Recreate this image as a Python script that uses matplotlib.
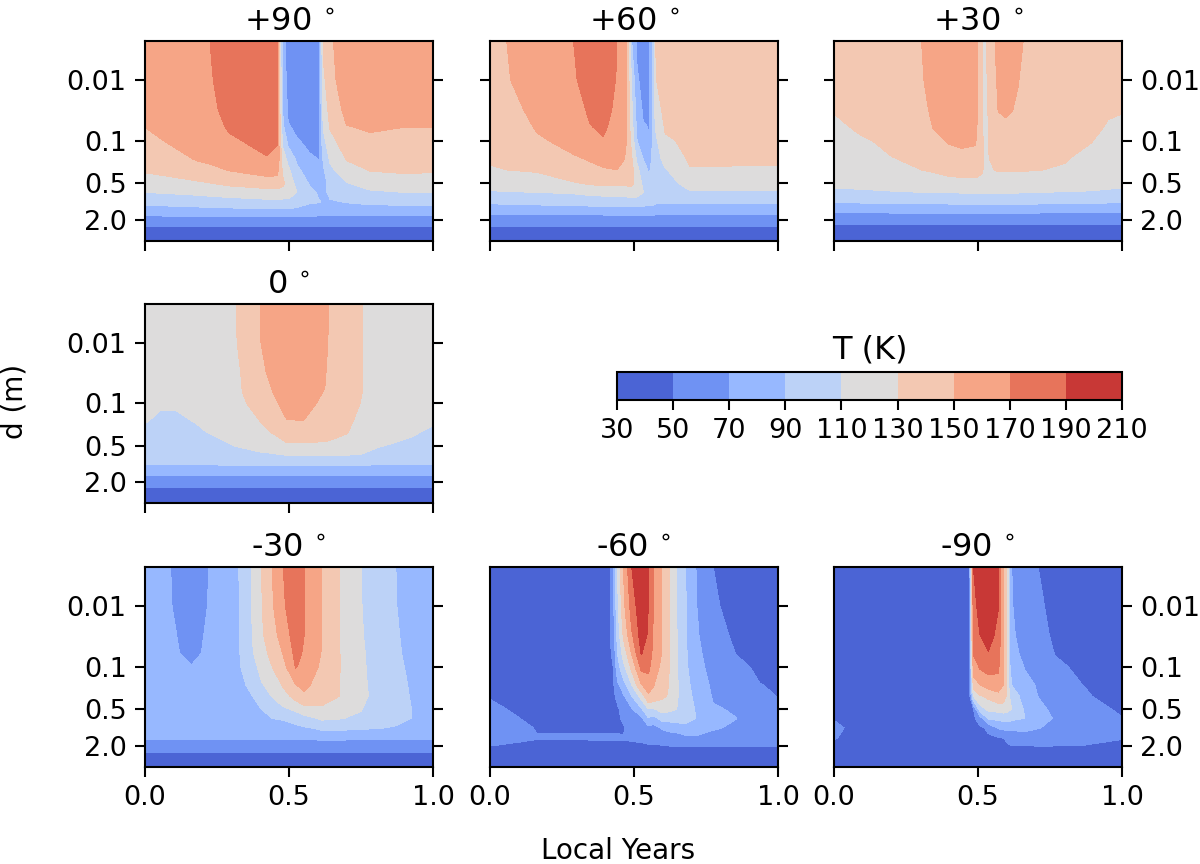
import numpy as np
import matplotlib
matplotlib.use('Agg')
import matplotlib.pyplot as plt
from matplotlib.ticker import NullLocator

# T(K), one list per time column, top to bottom along depth
depth = [0.0023, 0.01, 0.03, 0.06, 0.1, 0.2, 0.3, 0.5, 0.7, 1.0, 1.5, 2.0, 3.0, 4.4]
levels = [30, 50, 70, 90, 110, 130, 150, 170, 190, 210]
ytick_vals = [0.01, 0.1, 0.5, 2.0]
ytick_labels = ['0.01', '0.1', '0.5', '2.0']
xtick_vals = [0.0, 0.5, 1.0]

t_p90 = [0, .18, .237, .295, .422, .459, .478, .497, .527, .573, .605, .619, .642, .70, .781, .897, 1]
T_p90 = [
    [166, 162, 156, 150, 146, 137, 132, 120, 110, 95, 77, 60, 43, 36],
    [168, 167, 165, 161, 157, 151, 143, 126, 114, 99, 78, 60, 43, 36],
    [170.5, 170, 168, 165, 161, 153, 147, 130, 116, 100.5, 78, 60, 43, 36],
    [180, 178, 175, 172, 167, 156, 151, 134, 118, 102, 79, 60, 43, 36],
    [186, 185, 182, 178, 176, 168, 157, 140, 121, 105, 80, 60, 43, 36],
    [171, 171, 171, 171, 171, 166, 156, 140, 122, 105, 80, 60, 43, 36],
    [80, 85, 89, 96, 106, 120, 127, 134, 122, 104, 80, 60, 43, 36],
    [58, 62, 67, 72, 85, 105, 114, 122, 118, 106, 80, 60, 43, 36],
    [55, 57, 61, 66, 72, 87, 94, 104, 110, 99, 80, 60, 43, 36],
    [54, 55, 57, 60, 64, 74, 80, 88, 95, 92, 78, 60, 43, 36],
    [68, 68, 68, 68, 69, 69.5, 73, 82, 87, 91, 77, 60, 43, 36],
    [132, 125, 117, 111, 104, 92, 87, 83, 85, 88, 77, 60, 43, 36],
    [146, 143, 136, 131, 122, 112, 106, 96, 94, 88, 76, 60, 43, 36],
    [165, 162, 156, 149, 143, 131, 121, 109, 98, 91, 77, 60, 43, 36],
    [168, 165, 158, 152, 146, 137, 131, 117, 107, 94, 77, 60, 43, 36],
    [167, 163, 156, 150, 147, 138, 133, 119, 110, 95, 77, 60, 43, 36],
    [166, 162, 156, 150, 146, 137, 132, 120, 110, 95, 77, 60, 43, 36],
]

t_p60 = [0, .058, .162, .29, .347, .393, .44, .474, .492, .509, .532, .552, .565, .575, .608, .694, 1]
T_p60 = [
    [145, 142, 138, 136, 134, 131, 129, 117, 108, 93, 73, 58, 42, 35],
    [150, 148.5, 145, 142, 139, 133, 130, 118, 109, 94, 74, 58, 42, 35],
    [164, 160, 154, 151, 148, 139, 132, 118, 110, 95, 75, 58, 42, 35],
    [170, 168, 162, 157, 154, 148, 141, 128, 112, 97, 75, 58, 42, 35],
    [178, 177, 173, 169, 162, 151, 146, 132, 115, 98, 75, 58, 42, 35],
    [181, 180, 177, 173, 168, 155, 148, 134, 116, 99, 75, 58, 42, 35],
    [170.5, 169, 166, 163, 160, 154, 150, 134, 117, 100, 76, 58, 42, 35],
    [150, 150, 150, 150, 150, 149, 146, 134, 118, 100, 76, 58, 42, 35],
    [90, 108, 114, 118, 124, 132, 136, 134, 119, 100, 76, 58, 42, 35],
    [68, 74, 83, 88, 91, 108, 117, 124, 119, 100, 76, 58, 42, 35],
    [58, 62, 67, 72, 80, 90, 97, 105, 110.5, 98, 76, 58, 42, 35],
    [69, 69, 69, 69.5, 70, 80, 88, 95, 98, 95, 76, 58, 42, 35],
    [90, 90.5, 91, 92, 93, 94, 95, 99, 101, 97, 76, 58, 42, 35],
    [130, 129, 122, 111, 106, 100, 99, 99, 99, 93, 74, 58, 42, 35],
    [141, 139, 135, 132, 127, 117, 108, 103, 101, 93, 74, 58, 42, 35],
    [143, 142, 139, 136, 134, 132, 129, 116, 108, 93, 73, 58, 42, 35],
    [145, 142, 138, 136, 134, 131, 129, 117, 108, 93, 73, 58, 42, 35],
]

t_p30 = [0, .084, .2, .304, .345, .397, .443, .49, .499, .515, .522, .529, .537, .559, .57, .594, .617, .64, .657, .709, .802, .894, .952, 1]
T_p30 = [
    [144, 138, 131, 126, 123, 119, 116, 112, 108, 92, 70, 54, 42, 35],
    [147, 143, 136, 132, 127, 121, 118, 113, 108, 92, 70, 54, 42, 35],
    [148, 146, 141, 137, 134, 129, 124, 115, 109, 93, 71, 54, 42, 35],
    [150, 148.5, 146, 142, 139, 134, 130, 117, 110, 94, 71, 54, 42, 35],
    [158, 156, 153, 150.5, 146, 138, 132, 118, 110, 94, 71, 54, 42, 35],
    [160, 159, 157, 153, 151, 143, 136, 121, 110.5, 94, 71, 54, 42, 35],
    [160, 159, 157, 154, 152, 146, 138, 122, 111, 95, 71, 54, 42, 35],
    [152, 152, 152, 152, 151, 146, 138, 122, 111, 95, 71, 54, 42, 35],
    [150, 150, 150, 149, 148, 143, 137, 122, 111, 95, 71, 54, 42, 35],
    [130, 131, 133, 134, 135, 135, 132, 121, 111, 95, 71, 54, 42, 35],
    [109, 112, 115, 118, 122, 127, 126, 120, 111, 95, 71, 54, 42, 35],
    [130, 128, 125, 122, 122, 125, 125, 119, 111, 95, 71, 54, 42, 35],
    [135, 134, 133, 131, 130.5, 129.5, 127, 120, 111, 95, 71, 54, 42, 35],
    [150, 147, 142, 138, 135, 133, 130.5, 119, 111, 95, 71, 54, 42, 35],
    [155, 153, 150.5, 145, 140, 135, 131, 119, 111, 95, 71, 54, 42, 35],
    [158, 156, 152, 147, 142, 136, 131, 119, 111, 95, 71, 54, 42, 35],
    [155, 153, 150.5, 146, 141, 135, 131, 119, 111, 95, 71, 54, 42, 35],
    [153, 150.3, 148, 144, 140, 135, 131, 119, 111, 95, 71, 54, 42, 35],
    [150, 148, 145, 142, 139, 134, 131, 118, 110.5, 95, 71, 54, 42, 35],
    [148, 146, 143, 140, 137, 133, 130.5, 118, 110, 94, 71, 54, 42, 35],
    [147, 145, 142, 139, 136, 131, 128, 116, 109.5, 93, 70, 54, 42, 35],
    [146, 143, 139, 135, 130.5, 124, 121, 114, 109, 93, 70, 54, 42, 35],
    [145, 140, 132, 128, 125, 120, 118, 113, 108, 92, 70, 54, 42, 35],
    [144, 138, 131, 126, 123, 119, 116, 112, 108, 92, 70, 54, 42, 35],
]

t_0 = [0, .052, .11, .18, .316, .34, .40, .446, .492, .55, .625, .64, .70, .756, .816, .932, 1]
T_0 = [
    [121, 118, 115, 113, 112, 110.5, 107, 100, 96, 91, 72, 57, 43, 35],
    [121, 118, 114, 112.5, 111, 108, 104, 99, 95, 91, 72, 57, 43, 35],
    [122, 119, 115, 113, 111, 108, 105, 100, 96, 91, 72, 57, 43, 35],
    [124, 121, 117, 114, 112, 110.5, 108, 102, 97, 91, 72, 57, 43, 35],
    [130, 129.5, 128, 126, 124, 120, 116, 110.5, 103, 92, 72, 57, 43, 35],
    [133, 132.5, 131, 130.5, 128, 122, 118, 111.5, 105, 92, 72, 57, 43, 35],
    [150, 149.5, 146, 142, 137, 130, 124, 114, 108, 92, 72, 57, 43, 35],
    [160, 158, 155, 151, 147, 139, 131.5, 116, 109, 92, 72, 57, 43, 35],
    [165, 163, 160, 157, 155, 149, 138, 127, 111, 93, 72, 57, 43, 35],
    [166, 165, 163, 159, 156, 149.5, 139, 127, 111, 93, 72, 57, 43, 35],
    [152, 152, 151, 149.5, 146, 141, 136, 126.5, 111, 93, 72, 57, 43, 35],
    [149.5, 149, 147, 145, 143, 139, 135, 126, 111, 93, 72, 57, 43, 35],
    [138, 138, 137, 136, 135, 134, 131, 121, 111, 92, 72, 57, 43, 35],
    [130, 130, 130, 130, 129, 124, 120, 114, 109.5, 92, 72, 57, 43, 35],
    [122, 122, 120, 118, 116, 113, 112, 110.5, 105, 91, 72, 57, 43, 35],
    [120, 119, 117, 115, 114, 112, 111, 107, 100, 91, 72, 57, 43, 35],
    [121, 118, 115, 113, 112, 111, 108, 101, 96, 91, 72, 57, 43, 35],
]

t_m30 = [0, .089, .162, .221, .326, .37, .405, .442, .48, .523, .553, .614, .677, .75, .772, .871, .924, 1]
T_m30 = [
    [80, 79, 78, 77, 76, 75, 75, 74, 74, 73, 71, 58, 43, 35],
    [70, 70.5, 72, 73, 75, 75, 75, 74, 74, 73, 71, 58, 43, 35],
    [62, 63, 65, 66, 71, 75, 75, 74, 74, 73, 71, 58, 43, 35],
    [70, 70.5, 72, 73, 76, 76, 76, 75, 74, 73, 71, 58, 43, 35],
    [90, 89.5, 89, 88.5, 88, 85, 83, 80, 78, 75, 71, 57, 43, 35],
    [110, 109.5, 109, 107, 102, 94, 89, 83, 80, 76, 71, 57, 43, 35],
    [130, 129, 127, 122, 116, 108, 101, 90, 84, 77, 71, 57, 43, 35],
    [150, 148, 143, 136, 130, 118, 111, 98, 90, 79, 71, 57, 43, 35],
    [170, 167, 158, 151, 143, 132, 122, 106, 92, 81, 71, 57, 43, 35],
    [185, 184, 180, 175, 171, 149, 137, 113, 98, 85, 72, 57, 43, 35],
    [170, 170, 170, 168, 165, 155, 146, 121, 103, 88, 72, 57, 43, 35],
    [150, 150, 150, 149, 146, 140, 136, 127, 113, 94, 73, 57, 43, 35],
    [130, 130, 130, 130, 130.2, 129.5, 130, 120, 111, 94, 73, 57, 43, 35],
    [110, 111, 112, 113, 114, 115, 115, 111, 106, 93, 72, 57, 43, 35],
    [103, 105, 107, 108.5, 109, 110, 110.5, 106, 101, 92, 72, 57, 43, 35],
    [90, 90.5, 92, 93, 95, 97, 97, 95, 93, 89, 71, 57, 43, 35],
    [82, 83, 84, 85, 86, 88, 89, 90.2, 90, 82, 71, 57, 43, 35],
    [80, 79, 78, 77, 76, 75, 75, 74, 74, 73, 71, 58, 43, 35],
]

t_m60 = [0, .104, .162, .417, .428, .443, .463, .492, .525, .55, .567, .596, .623, .648, .68, .715, .775, .856, .937, 1]
T_m60 = [
    [38, 40, 42, 44, 46, 48, 49.5, 52, 54, 55, 54, 50, 42, 36],
    [37, 38, 40, 41, 42, 44, 46, 48.5, 50, 52, 51.5, 48, 42, 36],
    [37, 38, 39, 40, 41, 43, 45, 47, 48, 49.5, 50.5, 46, 41, 36],
    [50, 49.5, 48, 47.5, 47, 46, 46, 46.5, 47.5, 49, 51, 46, 41, 36],
    [70, 65, 60, 55, 50, 47, 46, 46, 47.5, 49, 51, 46, 41, 36],
    [110, 106, 98, 90.5, 82, 66, 55, 47, 48, 49, 51, 46, 41, 36],
    [150, 144, 132, 117, 104, 80, 67, 56, 52, 48.5, 51, 46, 41, 36],
    [190, 178, 167, 151, 135, 109, 90, 67, 60, 55, 52, 46, 41, 36],
    [205, 204, 198, 191, 175, 148, 117, 86, 66, 59, 53, 47, 41, 36],
    [190, 190, 188, 182, 175, 158, 147, 108, 88, 65, 55, 48, 41, 36],
    [170.5, 170, 168, 165, 160, 151, 143, 107, 82, 62, 55, 48, 41, 36],
    [150, 150, 150, 150, 146, 139, 134, 116, 96, 72, 56, 49, 42, 36],
    [130, 130, 130, 130, 129.5, 129, 128, 114, 97, 76, 58, 49.8, 42, 36],
    [110, 110, 111, 112, 112, 113, 113, 110, 99, 78, 58, 50.5, 42, 36],
    [90, 90.5, 91, 92, 93, 95, 96, 96, 95, 85, 62, 50.5, 42, 36],
    [70, 71, 73, 76, 78, 83, 86, 89, 90, 84, 64, 50.3, 42, 36],
    [50, 52, 56, 59, 62, 66, 68, 72, 74, 72, 62, 50.2, 42, 36],
    [44, 45, 47, 49.5, 54, 60, 63, 68, 70.2, 67, 58, 50.1, 42, 36],
    [40, 41, 43, 45, 47, 50.5, 53, 58, 60, 60, 55, 50.1, 42, 36],
    [38, 39, 41, 43, 45, 48, 49.6, 53, 55, 56, 54, 50, 42, 36],
]

t_m90 = [0, .035, .455, .47, .484, .507, .536, .57, .588, .60, .609, .617, .663, .709, .767, .86, 1]
T_m90 = [
    [36, 37, 38, 39, 40, 42, 44, 47, 49.5, 52, 50.5, 46, 40, 35],
    [36, 37, 38, 39, 40, 41, 43, 45, 47, 50, 49, 45, 40, 35],
    [36, 37, 38, 39, 39, 40, 40, 40, 41, 42, 43, 43, 39, 35],
    [48, 47, 46, 45, 44, 42, 41, 41, 42, 43, 44, 44, 40, 35],
    [190, 183, 176, 171, 160, 137, 110, 48, 46, 44, 45, 45, 40, 35],
    [200, 197, 190, 180, 172, 149, 128, 98, 60, 47, 46, 45, 40, 35],
    [205, 204, 197, 189, 177, 157, 134, 114, 92, 53, 47, 46, 40, 35],
    [190, 190.5, 185, 179, 174, 160, 143, 116, 94, 72, 47, 46, 40, 35],
    [150, 150, 150, 150, 150, 150, 140, 118, 96, 74, 49, 47, 40, 35],
    [130, 130, 130, 130, 130, 130, 128, 116, 96, 75, 52, 48, 41, 35],
    [90, 90.5, 91, 92, 94, 104, 110, 112, 96, 74, 54, 49, 41, 35],
    [70, 71, 73, 76, 80, 90, 100, 110, 94, 74, 55, 49.5, 41, 35],
    [58, 60, 62, 65, 69, 76, 82, 87, 90, 76, 57, 49.8, 41, 35],
    [50, 53, 56, 60, 63, 68, 69.5, 76, 81, 71, 56, 49.9, 41, 35],
    [44, 45, 47, 49.5, 53, 58, 61, 65, 68, 65, 55, 49.9, 41, 35],
    [40, 41, 43, 45, 47, 50.3, 52, 56, 58, 58, 53, 49.7, 41, 35],
    [36, 37, 38, 39, 40, 42, 44, 48, 50.5, 53, 50.5, 46, 40, 35],
]

W, H = 1200.0, 864.0
col_x = [(145, 433), (490, 778), (834, 1122)]
row_y = [(41, 241), (304, 503), (567, 767)]
tick_fs = 19.5
title_fs = 23

# name, time, table, col, row, left tick, right tick
panels = [
    ('+90 $^{\\circ}$', t_p90, T_p90, 0, 0, 'label', True),
    ('+60 $^{\\circ}$', t_p60, T_p60, 1, 0, True, True),
    ('+30 $^{\\circ}$', t_p30, T_p30, 2, 0, True, 'label'),
    ('0 $^{\\circ}$', t_0, T_0, 0, 1, 'label', True),
    ('-30 $^{\\circ}$', t_m30, T_m30, 0, 2, 'label', True),
    ('-60 $^{\\circ}$', t_m60, T_m60, 1, 2, False, True),
    ('-90 $^{\\circ}$', t_m90, T_m90, 2, 2, False, 'label'),
]

fig = plt.figure(figsize=(12, 8.64), dpi=100)
cf = None
for name, t, table, c, r, left, right in panels:
    x0, x1 = col_x[c]
    y0, y1 = row_y[r]
    ax = fig.add_axes([x0 / W, 1 - y1 / H, (x1 - x0) / W, (y1 - y0) / H])
    Z = np.array(table, dtype=float).T
    cf = ax.contourf(t, depth, Z, levels=levels, cmap='coolwarm')
    ax.set_yscale('log')
    ax.set_ylim(depth[-1], depth[0])
    ax.set_xlim(0, 1)
    ax.yaxis.set_minor_locator(NullLocator())
    ax.set_yticks(ytick_vals)
    ax.set_yticklabels(ytick_labels)
    ax.set_xticks(xtick_vals)
    ax.tick_params(axis='x', labelbottom=(r == 2), labelsize=tick_fs, length=7.2, width=1.5, pad=6)
    ax.tick_params(axis='y', left=bool(left), labelleft=(left == 'label'),
                   right=bool(right), labelright=(right == 'label'),
                   labelsize=tick_fs, length=7.2, width=1.5, pad=6)
    for s in ax.spines.values():
        s.set_linewidth(1.5)
    ax.set_title(name, fontsize=title_fs, pad=7)

# colourbar sits in the empty slot beside the 0 deg panel
cax = fig.add_axes([617 / W, 1 - 400 / H, 505 / W, 28 / H])
cb = fig.colorbar(cf, cax=cax, orientation='horizontal', ticks=levels)
cb.ax.tick_params(labelsize=tick_fs, length=7.2, width=1.5, pad=6)
cb.outline.set_linewidth(1.5)
cb.ax.set_title('T (K)', fontsize=title_fs, pad=10)

fig.text(15 / W, 1 - 401 / H, 'd (m)', rotation=90, ha='center', va='center', fontsize=20)
fig.text(618 / W, 1 - 851 / H, 'Local Years', ha='center', va='center', fontsize=20)

fig.savefig('out.png', dpi=100)
